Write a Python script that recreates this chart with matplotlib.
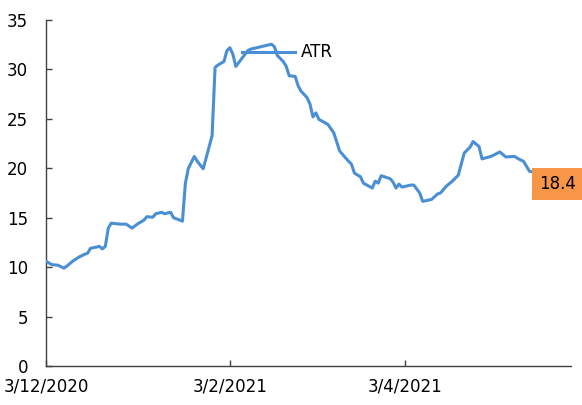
import matplotlib
matplotlib.use("Agg")
import matplotlib.pyplot as plt
import matplotlib.dates as mdates
import matplotlib.transforms as mtransforms
import pandas as pd

plt.rcParams['font.family'] = ['DejaVu Sans']

dates = [
    "2020-12-03", "2020-12-05", "2020-12-07", "2020-12-09", "2020-12-10", "2020-12-12",
    "2020-12-14", "2020-12-16", "2020-12-17", "2020-12-18", "2020-12-21", "2020-12-22",
    "2020-12-23", "2020-12-24", "2020-12-25", "2020-12-28", "2020-12-30", "2021-01-01",
    "2021-01-03", "2021-01-05", "2021-01-06", "2021-01-08", "2021-01-09", "2021-01-11",
    "2021-01-12", "2021-01-14", "2021-01-15", "2021-01-18", "2021-01-19", "2021-01-20",
    "2021-01-22", "2021-01-23", "2021-01-25", "2021-01-28", "2021-01-29", "2021-01-30",
    "2021-02-01", "2021-02-02", "2021-02-03", "2021-02-04", "2021-02-05", "2021-02-07",
    "2021-02-09", "2021-02-10", "2021-02-17", "2021-02-18", "2021-02-19", "2021-02-21",
    "2021-02-22", "2021-02-23", "2021-02-25", "2021-02-26", "2021-02-27", "2021-03-01",
    "2021-03-02", "2021-03-03", "2021-03-04", "2021-03-05", "2021-03-08", "2021-03-10",
    "2021-03-12", "2021-03-14", "2021-03-16", "2021-03-17", "2021-03-19", "2021-03-20",
    "2021-03-23", "2021-03-24", "2021-03-25", "2021-03-26", "2021-03-29", "2021-03-30",
    "2021-03-31", "2021-04-01", "2021-04-02", "2021-04-05", "2021-04-06", "2021-04-08",
    "2021-04-09", "2021-04-12", "2021-04-14", "2021-04-15", "2021-04-17", "2021-04-19",
    "2021-04-21", "2021-04-23", "2021-04-25", "2021-04-26", "2021-04-28", "2021-04-29",
    "2021-05-02", "2021-05-05", "2021-05-07", "2021-05-10", "2021-05-11", "2021-05-13",
    "2021-05-15", "2021-05-16",
]
atr = [
    10.6, 10.25, 10.2, 9.9, 10.1, 10.6,
    11.0, 11.3, 11.4, 11.9, 12.1, 11.85,
    12.1, 13.95, 14.45, 14.35, 14.35, 13.95,
    14.4, 14.75, 15.1, 15.05, 15.4, 15.55,
    15.4, 15.55, 15.0, 14.65, 18.5, 20.0,
    21.2, 20.7, 19.95, 23.3, 30.2, 30.45,
    30.8, 31.9, 32.2, 31.55, 30.3, 31.1,
    31.9, 32.05, 32.55, 32.3, 31.4, 30.8,
    30.3, 29.35, 29.3, 28.35, 27.8, 27.15,
    26.5, 25.2, 25.6, 24.95, 24.45, 23.6,
    21.75, 21.05, 20.4, 19.5, 19.15, 18.5,
    18.0, 18.7, 18.5, 19.25, 18.95, 18.6,
    18.0, 18.4, 18.1, 18.3, 18.3, 17.5,
    16.65, 16.85, 17.4, 17.5, 18.2, 18.7,
    19.3, 21.55, 22.15, 22.7, 22.2, 20.95,
    21.2, 21.65, 21.15, 21.2, 21.0, 20.7,
    19.7, 19.65,
]
series_name = "ATR"
last_value_label = "18.4"
last_value = 18.4

tick_dates = ["2020-12-03", "2021-02-03", "2021-04-03"]
tick_labels = ["3/12/2020", "3/2/2021", "3/4/2021"]
x_min, x_max = "2020-12-03", "2021-05-29"
y_ticks = [0, 5, 10, 15, 20, 25, 30, 35]

# series-name label leader line (start, end, level)
name_line_start, name_line_end, name_level = "2021-02-07", "2021-02-25", 31.75

line_color = "#4a8fd4"
axis_color = "#404040"

fig = plt.figure(figsize=(5.82, 4.05), dpi=100)
ax = fig.add_axes([46/582, 39/405, 525/582, 346/405])

x = pd.to_datetime(dates)
ax.plot(x, atr, color=line_color, lw=2.2, solid_joinstyle='round', zorder=3)

ax.set_xlim(pd.Timestamp(x_min), pd.Timestamp(x_max))
ax.set_ylim(0, 35)
ax.set_yticks(y_ticks)
ax.set_xticks(pd.to_datetime(tick_dates))
ax.set_xticklabels(tick_labels)

for s in ["top", "right"]:
    ax.spines[s].set_visible(False)
for s in ["left", "bottom"]:
    ax.spines[s].set_color(axis_color)
    ax.spines[s].set_linewidth(1.0)

ax.tick_params(axis='both', direction='in', length=4.5, width=1.0, color=axis_color,
               labelsize=12, labelcolor='black')
ax.tick_params(axis='y', pad=13)
ax.tick_params(axis='x', pad=8)

# series-name label with leader line
ax.plot(pd.to_datetime([name_line_start, name_line_end]), [name_level, name_level],
        color=line_color, lw=2.2, zorder=3)
ax.annotate(series_name, xy=(pd.Timestamp(name_line_end), name_level),
            xytext=(4, 0), textcoords='offset points', va='center', ha='left',
            fontsize=12, color='black')

# last value label box
trans = mtransforms.blended_transform_factory(ax.transAxes, ax.transData)
ax.text(0.975, last_value, last_value_label, transform=trans, ha='center', va='center',
        fontsize=12, color='black', clip_on=False, zorder=5,
        bbox=dict(boxstyle='square,pad=0.42', facecolor='#f79646', edgecolor='none'))

fig.savefig("out.png", dpi=100)
